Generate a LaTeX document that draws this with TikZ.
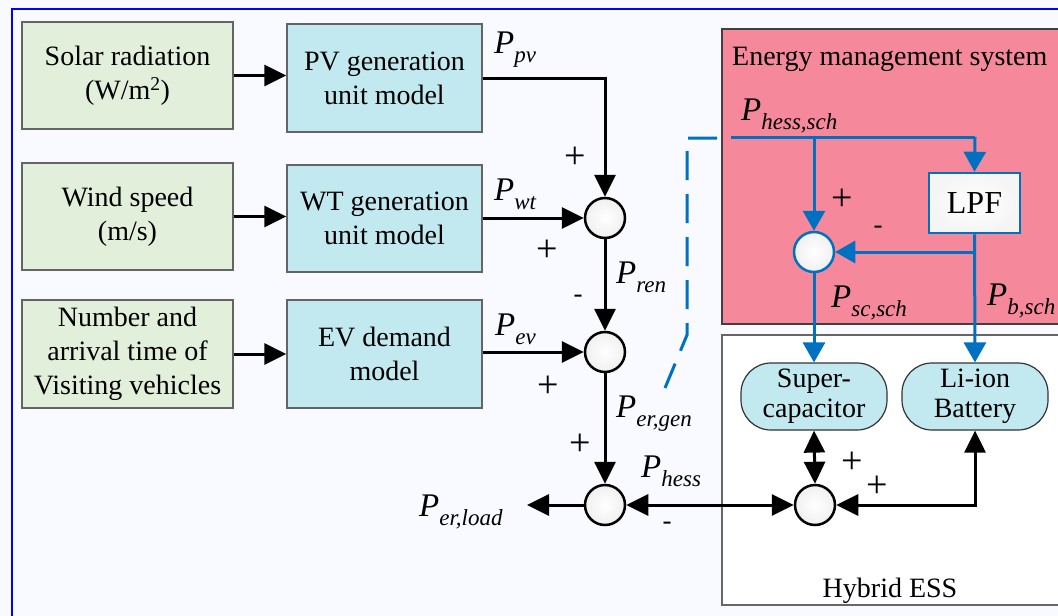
\documentclass[tikz,border=0pt]{standalone}
\usepackage{fontspec}
\setmainfont{Liberation Serif}
\usetikzlibrary{arrows.meta}
\definecolor{bgc}{RGB}{248,250,255}
\definecolor{greenbox}{RGB}{226,239,218}
\definecolor{cyanbox}{RGB}{194,232,240}
\definecolor{emspink}{RGB}{245,137,155}
\definecolor{lineblue}{RGB}{0,112,192}
\definecolor{boxgray}{RGB}{100,100,100}
\newcommand\Psub[1]{\textit{P}\raisebox{-9pt}{\fontsize{23}{23}\selectfont\textit{#1}}}
\begin{document}
\begin{tikzpicture}[x=1pt,y=-1pt,
  every node/.style={font=\fontsize{28}{34}\selectfont},
  inbox/.style={draw=boxgray, line width=1.5pt, fill=greenbox, minimum width=211pt, minimum height=107pt, align=center, inner sep=0pt},
  modelbox/.style={inbox, fill=cyanbox, minimum width=195pt},
  sumnode/.style={circle, draw=black, line width=2.5pt, inner color=white, outer color=black!6, minimum size=40pt, inner sep=0pt},
  bsumnode/.style={sumnode, draw=lineblue},
  storebox/.style={draw=black!80, line width=1.2pt, fill=cyanbox, rounded corners=30pt, minimum width=146pt, minimum height=67pt, align=center, inner sep=0pt, font=\fontsize{28}{30}\selectfont},
  lbl/.style={anchor=base west, inner sep=0pt, font=\fontsize{33}{33}\selectfont},
  sgn/.style={inner sep=0pt, font=\fontsize{38}{38}\selectfont},
  msgn/.style={inner sep=0pt, font=\fontsize{27}{27}\selectfont},
  conn/.style={line width=3pt, draw=black, -{Triangle[length=22pt,width=21pt]}},
  bconn/.style={line width=3pt, draw=lineblue, -{Triangle[length=20pt,width=22pt]}},
  bline/.style={line width=3pt, draw=lineblue},
  dconn/.style={line width=3pt, draw=black, {Triangle[length=22pt,width=21pt]}-{Triangle[length=22pt,width=21pt]}}
]
\clip (0,0) rectangle (1058,616);
\fill[bgc] (0,0) rectangle (1058,616);
\draw[blue, line width=2pt] (12,700) -- (12,9) -- (1100,9);

% EMS and Hybrid ESS regions
\node[draw=black!75, line width=1.5pt, fill=emspink, minimum width=360pt, minimum height=295pt, anchor=north west, inner sep=0pt] (ems) at (721,28) {};
\node[draw=black!60, line width=1.5pt, fill=white, minimum width=360pt, minimum height=270pt, anchor=north west, inner sep=0pt] (hess) at (721,334) {};
\node[anchor=base west, inner sep=0pt] (emst) at (732,65) {Energy management system};
\node[anchor=base, inner sep=0pt] (hesst) at (890,597) {Hybrid ESS};

% input boxes
\node[inbox] (solar) at (127.5,75.5) {Solar radiation\\(W/m\textsuperscript{2})};
\node[inbox] (wind) at (127.5,216.5) {Wind speed\\(m/s)};
\node[inbox, minimum height=108pt] (num) at (127.5,354) {Number and\\arrival time of\\Visiting vehicles};
\node[modelbox, minimum height=108pt] (pv) at (384.5,78) {PV generation\\unit model};
\node[modelbox] (wt) at (384.5,218.5) {WT generation\\unit model};
\node[modelbox, minimum height=108pt] (ev) at (384.5,354) {EV demand\\model};

% sum nodes
\node[sumnode] (s1) at (605,218) {};
\node[sumnode] (s2) at (605,352) {};
\node[sumnode] (s3) at (605,505) {};
\node[sumnode] (s4) at (815,505) {};
\node[bsumnode] (se) at (814,252) {};

% EMS internals
\node[draw=lineblue, line width=2.5pt, inner color=white, outer color=black!4, minimum width=91pt, minimum height=60pt, inner sep=0pt, font=\fontsize{32}{32}\selectfont] (lpf) at (974.5,203) {LPF};
\node[storebox] (sc) at (814,396.5) {Super-\\capacitor};
\node[storebox] (li) at (975,396.5) {Li-ion\\Battery};

\coordinate (hs) at (731,137);
\coordinate (lpftop) at (975,137);
\coordinate (brsc) at (814,137);
\coordinate (brb) at (975,252);
\coordinate (load) at (527,505);

% black connectors
\draw[conn] (solar.east) -- (solar.east -| pv.west);
\draw[conn] (wind.east) -- (wind.east -| wt.west);
\draw[conn] (num.east |- ev.west) -- (ev.west);
\draw[conn] (pv.east) -| (s1.north);
\draw[conn] (wt.east |- s1) -- (s1.west);
\draw[conn] (ev.east |- s2) -- (s2.west);
\draw[conn] (s1.south) -- (s2.north);
\draw[conn] (s2.south) -- (s3.north);
\draw[conn] (s3.west) -- (load);
\draw[dconn] (s3.east) -- (s4.west);
\draw[dconn] (sc.south) -- (s4.north);
\draw[dconn] (s4.east) -| (li.south);

% blue connectors
\draw[bline] (hs) -- (lpftop);
\draw[bconn] (lpftop) -- (lpf.north);
\draw[bconn] (brsc) -- (se.north);
\draw[bconn] (lpf.south) -- (li.north);
\draw[bconn] (brb) -- (se.east);
\draw[bconn] (se.south) -- (sc.north);
\draw[lineblue, line width=3pt, dash pattern=on 29pt off 14pt] (717,138) -- (687,138) -- (687,335) -- (665,388);

% labels
\node[lbl] at (494,53) {\Psub{pv}};
\node[lbl] at (494,200) {\Psub{wt}};
\node[lbl] at (616,283) {\Psub{ren}};
\node[lbl] at (495,335) {\Psub{ev}};
\node[lbl] at (616,417) {\Psub{er,gen}};
\node[lbl] at (641,477) {\Psub{hess}};
\node[lbl] at (419,516) {\Psub{er,load}};
\node[lbl] at (741,120) {\Psub{hess,sch}};
\node[lbl] at (831,307) {\Psub{sc,sch}};
\node[lbl] at (987,305) {\Psub{b,sch}};

% signs
\node[sgn] at (575,158) {+};
\node[sgn] at (547,251) {+};
\node[msgn] at (578,299) {-};
\node[sgn] at (548,387) {+};
\node[sgn] at (580,445) {+};
\node[msgn] at (667,526) {-};
\node[sgn] at (842,200) {+};
\node[msgn] at (878,230) {-};
\node[sgn] at (852,463) {+};
\node[sgn] at (877,487) {+};
\end{tikzpicture}
\end{document}
